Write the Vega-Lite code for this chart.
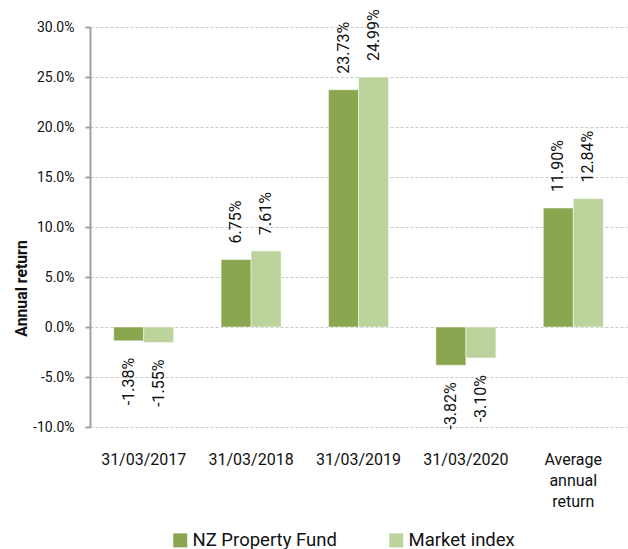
{
  "$schema": "https://vega.github.io/schema/vega-lite/v6.json",
  "width": 537,
  "height": 400,
  "autosize": {"type": "none"},
  "padding": {"left": 90, "top": 27, "right": 1, "bottom": 122},
  "config": {
    "font": "Roboto",
    "view": {"stroke": null},
    "locale": {"number": {"decimal": ".", "thousands": ",", "grouping": [3], "currency": ["$", ""], "minus": "-"}}
  },
  "data": {
    "values": [
      {"period": "31/03/2017", "series": "NZ Property Fund", "value": -0.0138},
      {"period": "31/03/2017", "series": "Market index", "value": -0.0155},
      {"period": "31/03/2018", "series": "NZ Property Fund", "value": 0.0675},
      {"period": "31/03/2018", "series": "Market index", "value": 0.0761},
      {"period": "31/03/2019", "series": "NZ Property Fund", "value": 0.2373},
      {"period": "31/03/2019", "series": "Market index", "value": 0.2499},
      {"period": "31/03/2020", "series": "NZ Property Fund", "value": -0.0382},
      {"period": "31/03/2020", "series": "Market index", "value": -0.0310},
      {"period": "Average annual return", "series": "NZ Property Fund", "value": 0.1190},
      {"period": "Average annual return", "series": "Market index", "value": 0.1284}
    ]
  },
  "encoding": {
    "x": {
      "field": "period",
      "type": "nominal",
      "sort": null,
      "scale": {"paddingInner": 0, "paddingOuter": 0},
      "axis": {
        "title": null,
        "domain": false,
        "ticks": false,
        "grid": false,
        "labelAngle": 0,
        "labelFontSize": 16,
        "labelColor": "#111111",
        "labelPadding": 24,
        "labelLineHeight": 21,
        "labelExpr": "datum.value == 'Average annual return' ? ['Average', 'annual', 'return'] : datum.value"
      }
    },
    "xOffset": {
      "field": "series",
      "type": "nominal",
      "sort": ["NZ Property Fund", "Market index"],
      "scale": {"paddingInner": 0, "paddingOuter": 0.79}
    },
    "y": {
      "field": "value",
      "type": "quantitative",
      "scale": {"domain": [-0.1, 0.3], "nice": false, "zero": false},
      "axis": {
        "format": ".1%",
        "values": [-0.1, -0.05, 0, 0.05, 0.1, 0.15, 0.2, 0.25, 0.3],
        "title": "Annual return",
        "titleFontSize": 15.8,
        "titleFontWeight": "bold",
        "titleColor": "#111111",
        "titleX": -69,
        "titleY": 261,
        "titleAngle": 270,
        "titleAlign": "center",
        "titleBaseline": "middle",
        "labelFontSize": 14,
        "labelColor": "#111111",
        "labelPadding": 11,
        "domainColor": "#a0a0a0",
        "domainWidth": 2,
        "tickColor": "#a0a0a0",
        "tickWidth": 2,
        "tickSize": 5,
        "gridColor": "#c8c8c8",
        "gridDash": [3, 2],
        "gridWidth": 1
      }
    }
  },
  "layer": [
    {
      "mark": {"type": "bar", "stroke": "white", "strokeWidth": 0.5},
      "encoding": {
        "color": {
          "field": "series",
          "type": "nominal",
          "scale": {"domain": ["NZ Property Fund", "Market index"], "range": ["#8aa64f", "#bcd39c"]},
          "legend": {
            "title": null,
            "orient": "none",
            "direction": "horizontal",
            "legendX": 81,
            "legendY": 504,
            "symbolType": "square",
            "symbolSize": 196,
            "symbolStrokeWidth": 0,
            "symbolOpacity": 1,
            "labelFontSize": 18.5,
            "labelColor": "#111111",
            "labelOffset": 3,
            "columnPadding": 50
          }
        }
      }
    },
    {
      "transform": [{"filter": "datum.value >= 0"}],
      "mark": {"type": "text", "angle": 270, "align": "left", "baseline": "middle", "dx": 16, "fontSize": 16, "color": "#111111"},
      "encoding": {"text": {"field": "value", "type": "quantitative", "format": ".2%"}}
    },
    {
      "transform": [{"filter": "datum.value < 0"}],
      "mark": {"type": "text", "angle": 270, "align": "right", "baseline": "middle", "dx": -17, "fontSize": 16, "color": "#111111"},
      "encoding": {"text": {"field": "value", "type": "quantitative", "format": ".2%"}}
    },
    {
      "data": {"values": [{"v": 0}]},
      "mark": {"type": "rule", "color": "#a0a0a0", "strokeWidth": 2},
      "encoding": {"y": {"datum": 0}, "x": null, "xOffset": null}
    },
    {
      "data": {
        "values": [
          {"period": "31/03/2017"},
          {"period": "31/03/2018"},
          {"period": "31/03/2019"},
          {"period": "31/03/2020"},
          {"period": "Average annual return"}
        ]
      },
      "mark": {"type": "rule", "color": "#a0a0a0", "strokeWidth": 2},
      "encoding": {
        "x": {"field": "period", "type": "nominal", "sort": null, "bandPosition": 0},
        "xOffset": null,
        "y": {"datum": 0},
        "y2": {"datum": -0.005}
      }
    }
  ]
}
